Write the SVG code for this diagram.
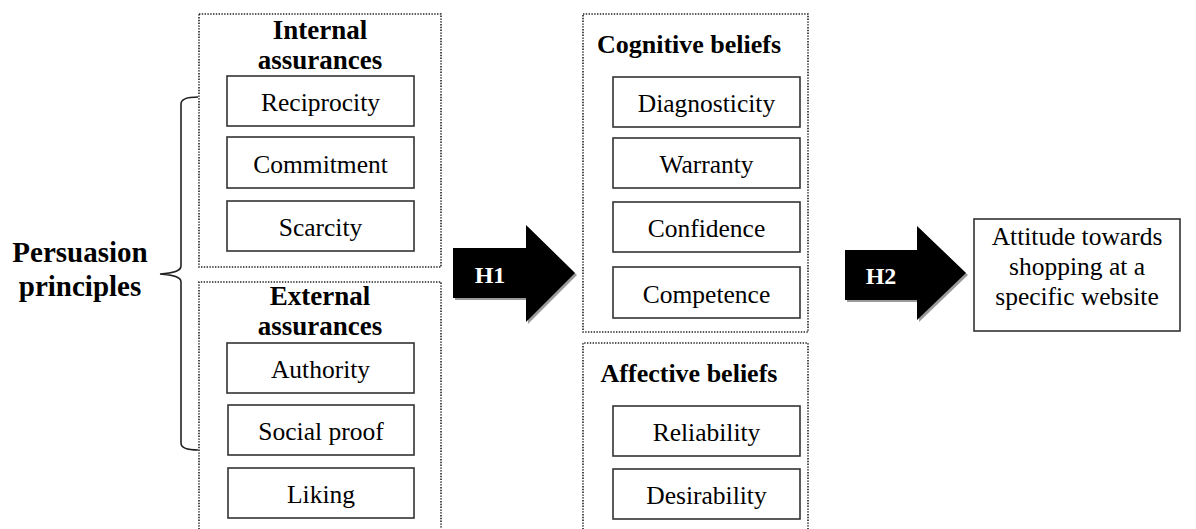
<svg xmlns="http://www.w3.org/2000/svg" width="1196" height="529" viewBox="0 0 1196 529">
<style>
.bg{fill:#fff}
.dot{fill:none;stroke:#222;stroke-width:1.6;stroke-dasharray:1.4 1.4}
.box{fill:#fff;stroke:#333;stroke-width:1.6}
.t{font-family:"Liberation Serif","Times New Roman",Times,"DejaVu Serif",serif;font-size:25.5px;fill:#000;text-anchor:middle}
.b{font-family:"Liberation Serif","Times New Roman",Times,"DejaVu Serif",serif;font-weight:bold;font-size:26px;fill:#000;text-anchor:middle}
.h{font-family:"Liberation Serif","Times New Roman",Times,"DejaVu Serif",serif;font-weight:bold;font-size:24px;fill:#fff;text-anchor:middle}
.brace{fill:none;stroke:#222;stroke-width:1.6}
</style>
<defs>
<path id="arrowH1" d="M453,248 L526,248 L526,225 L575,273 L526,322 L526,298 L453,298 Z"/>
<path id="arrowH2" d="M845,250 L917,250 L917,226 L966,273 L917,320 L917,300 L845,300 Z"/>
</defs>
<rect class="bg" x="0" y="0" width="1196" height="529"/>

<g id="persuasion-principles">
<text class="b" x="80" y="262" style="font-size:29px">Persuasion</text>
<text class="b" x="80" y="296" style="font-size:29px">principles</text>
</g>

<g id="internal-assurances">
<rect class="dot" x="199" y="14" width="242" height="253"/>
<text class="b" x="320" y="39" style="font-size:27px">Internal</text>
<text class="b" x="320" y="68.5" style="font-size:27px">assurances</text>
</g>
<g id="reciprocity"><rect class="box" x="227" y="76" width="187" height="50"/><text class="t" x="320.5" y="111">Reciprocity</text></g>
<g id="commitment"><rect class="box" x="227" y="137" width="187" height="51"/><text class="t" x="320.5" y="173">Commitment</text></g>
<g id="scarcity"><rect class="box" x="227" y="201" width="187" height="50"/><text class="t" x="320.5" y="236">Scarcity</text></g>

<g id="external-assurances">
<path class="dot" d="M199,535 L199,282 L441,282 L441,535"/>
<text class="b" x="320" y="305" style="font-size:27px">External</text>
<text class="b" x="320" y="334.5" style="font-size:27px">assurances</text>
</g>
<g id="authority"><rect class="box" x="227" y="343" width="187" height="50"/><text class="t" x="320.5" y="378">Authority</text></g>
<g id="social-proof"><rect class="box" x="228" y="405" width="186" height="50"/><text class="t" x="321" y="440">Social proof</text></g>
<g id="liking"><rect class="box" x="228" y="468" width="186" height="50"/><text class="t" x="321" y="503">Liking</text></g>

<g id="cognitive-beliefs">
<rect class="dot" x="583" y="14" width="225" height="318"/>
<text class="b" x="689" y="53">Cognitive beliefs</text>
</g>
<g id="diagnosticity"><rect class="box" x="613" y="77" width="187" height="50"/><text class="t" x="706.5" y="112">Diagnosticity</text></g>
<g id="warranty"><rect class="box" x="613" y="138" width="187" height="50"/><text class="t" x="706.5" y="173">Warranty</text></g>
<g id="confidence"><rect class="box" x="613" y="202" width="187" height="50"/><text class="t" x="706.5" y="237">Confidence</text></g>
<g id="competence"><rect class="box" x="613" y="267" width="187" height="51"/><text class="t" x="706.5" y="303">Competence</text></g>

<g id="affective-beliefs">
<path class="dot" d="M583,535 L583,343 L808,343 L808,535"/>
<text class="b" x="689" y="382">Affective beliefs</text>
</g>
<g id="reliability"><rect class="box" x="613" y="406" width="187" height="50"/><text class="t" x="706.5" y="441">Reliability</text></g>
<g id="desirability"><rect class="box" x="613" y="469" width="187" height="50"/><text class="t" x="706.5" y="504">Desirability</text></g>

<g id="attitude">
<rect class="box" x="974" y="219" width="206" height="112"/>
<text class="t" x="1077" y="245">Attitude towards</text>
<text class="t" x="1077" y="275">shopping at a</text>
<text class="t" x="1077" y="305">specific website</text>
</g>

<g id="connectors">
<path class="brace" d="M198,97 C186,97 181,99 181,104 L181,266 C181,271 174,273 160,274 C174,275 181,277 181,282 L181,443 C181,448 186,450 198,450"/>
<use href="#arrowH1" transform="translate(2,2)" fill="#9a9a9a"/>
<use href="#arrowH1" fill="#000"/>
<text class="h" x="490" y="283">H1</text>
<use href="#arrowH2" transform="translate(2,2)" fill="#9a9a9a"/>
<use href="#arrowH2" fill="#000"/>
<text class="h" x="881" y="284">H2</text>
</g>
</svg>
